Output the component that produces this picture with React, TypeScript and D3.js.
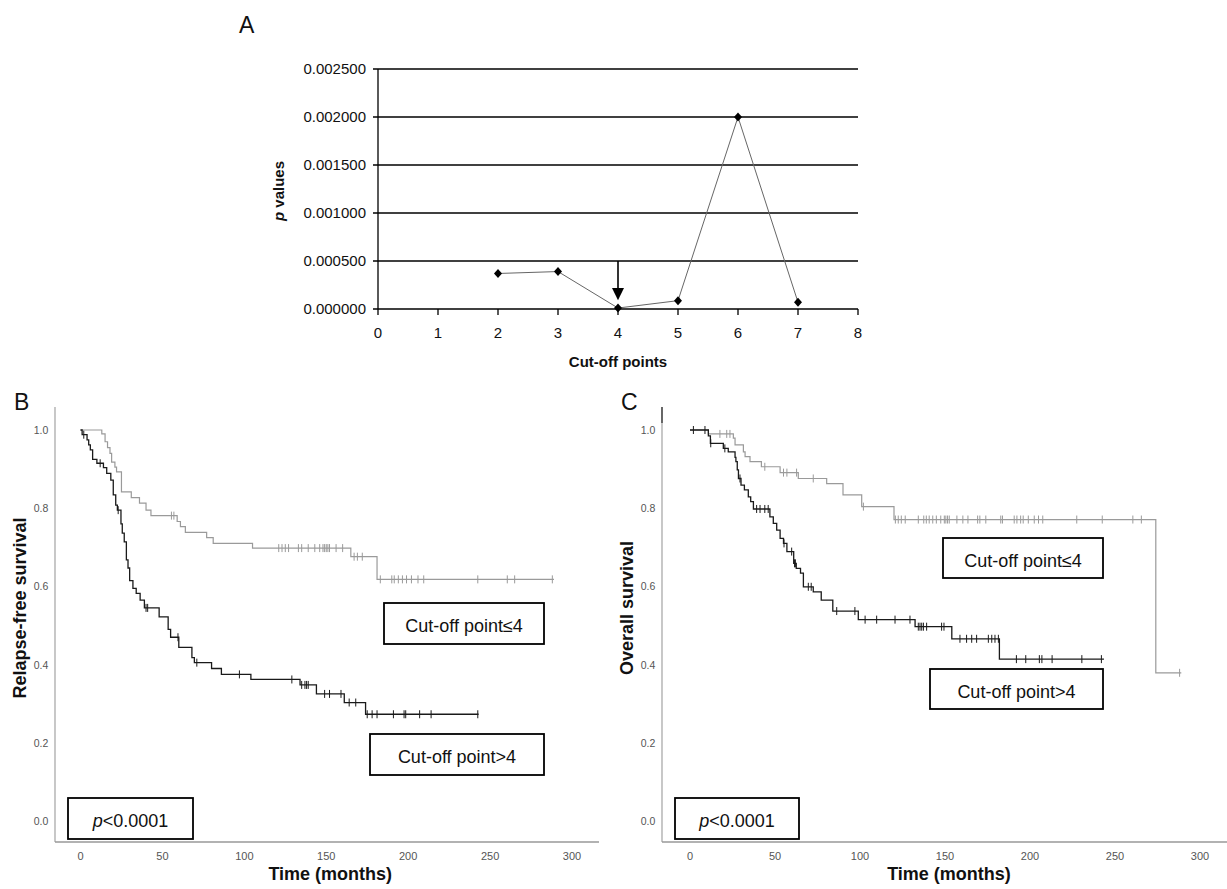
import React from "react";
import * as d3 from "d3";

// Panel A: p values by cut-off point
const cutoffPoints = [2, 3, 4, 5, 6, 7];
const pValues = [0.00037, 0.00039, 0.00001, 0.000087, 0.002, 0.00007];
const pTicks = [0, 0.0005, 0.001, 0.0015, 0.002, 0.0025];
const cutoffTicks = [0, 1, 2, 3, 4, 5, 6, 7, 8];

// Kaplan-Meier axes
const survTicks = [0, 0.2, 0.4, 0.6, 0.8, 1.0];
const timeTicks = [0, 50, 100, 150, 200, 250, 300];

// B: relapse-free survival, cut-off point <= 4
const rfsLowTimes = [0, 13, 15, 16.5, 18, 19, 21, 22, 25, 31, 36, 40, 43, 59, 61, 64, 77, 81, 105, 165, 181];
const rfsLowSurv = [1.0, 0.99, 0.97, 0.955, 0.94, 0.918, 0.905, 0.893, 0.842, 0.827, 0.813, 0.795, 0.781, 0.766, 0.753, 0.738, 0.725, 0.71, 0.698, 0.676, 0.618];
const rfsLowEnd = 289;
const rfsLowCensor = [55.5, 57, 121, 123, 125, 127, 133, 135, 139, 143, 146, 148, 149, 150, 151, 152, 156, 160, 167, 169, 172, 183, 190, 191.5, 194, 196.5, 199, 202, 206, 209.5, 242.5, 260.5, 265, 288];

// B: relapse-free survival, cut-off point > 4
const rfsHighTimes = [0, 1, 4, 5, 6, 7.4, 10, 14, 16, 18.5, 20, 21.5, 22.5, 24.7, 25.5, 26.7, 28, 29, 30, 32, 34, 36.4, 39, 48, 53.5, 55, 60, 68, 69.5, 80, 86, 104, 134, 144, 161, 174];
const rfsHighSurv = [1.0, 0.988, 0.975, 0.962, 0.949, 0.925, 0.915, 0.904, 0.889, 0.872, 0.834, 0.808, 0.795, 0.76, 0.736, 0.714, 0.668, 0.647, 0.615, 0.595, 0.582, 0.565, 0.545, 0.522, 0.49, 0.47, 0.444, 0.418, 0.405, 0.39, 0.375, 0.362, 0.348, 0.325, 0.303, 0.273];
const rfsHighEnd = 243;
const rfsHighCensor = [2, 12, 23, 40, 41, 59.5, 71, 97, 129, 135, 137, 138, 139, 149, 152, 159, 164, 168, 175, 178, 181, 191, 197.5, 198.5, 207, 214, 242.5];

// C: overall survival, cut-off point <= 4
const osLowTimes = [0, 10.8, 25.5, 26.5, 31.4, 32.4, 35.3, 42, 53, 63.7, 80.4, 90, 101, 120, 274];
const osLowSurv = [1.0, 0.99, 0.979, 0.962, 0.944, 0.932, 0.919, 0.906, 0.891, 0.876, 0.863, 0.834, 0.804, 0.771, 0.379];
const osLowEnd = 289;
const osLowCensor = [17.6, 21.6, 23.5, 44, 55, 57, 62.7, 72.5, 102, 120.8, 122.5, 124.3, 126.6, 134.3, 137.5, 139, 140.7, 142.8, 144.9, 147.5, 149.6, 150.5, 151.5, 152.5, 157, 160.5, 163.5, 169.2, 170.5, 174, 182.8, 183.8, 190.7, 192.3, 194.5, 196, 199, 202.5, 205, 207.5, 227.5, 242.5, 260.5, 265.5, 288];

// C: overall survival, cut-off point > 4
const osHighTimes = [0, 10.8, 12, 19.6, 22.5, 26.5, 27, 27.8, 28.5, 30, 32, 34.3, 35.7, 37.3, 47, 49, 51, 53, 55, 57, 61, 62.5, 65, 66.7, 72.5, 77.2, 84, 99, 132.4, 154, 182];
const osHighSurv = [1.0, 0.985, 0.966, 0.953, 0.944, 0.93, 0.919, 0.898, 0.876, 0.859, 0.847, 0.829, 0.817, 0.798, 0.778, 0.761, 0.744, 0.723, 0.71, 0.689, 0.659, 0.646, 0.634, 0.599, 0.586, 0.565, 0.537, 0.515, 0.497, 0.466, 0.414];
const osHighEnd = 243.5;
const osHighCensor = [2, 8.8, 12.2, 20.5, 29.4, 39.2, 41.2, 44, 46, 55.3, 59.8, 61.5, 62, 69.6, 71.3, 86.3, 97, 103, 109.8, 120.6, 129.4, 134.3, 135.3, 136.3, 137.3, 139.2, 148, 149.4, 158.8, 162.7, 165.7, 168.6, 175.5, 177.5, 179.4, 181.4, 192, 197.5, 205.5, 207, 213, 230.5, 242];

const FONT = "'Liberation Sans', Arial, sans-serif";
const GRAY = "#9a9a9a";
const DARK = "#1a1a1a";

function stepPath(x, y, times, surv, end) {
  const pts = times.map((t, i) => [t, surv[i]]);
  pts.push([end, surv[surv.length - 1]]);
  return d3
    .line()
    .x((d) => x(d[0]))
    .y((d) => y(d[1]))
    .curve(d3.curveStepAfter)(pts);
}

function survAt(times, surv, t) {
  const i = d3.bisectRight(times, t) - 1;
  return surv[Math.max(0, i)];
}

function PanelA() {
  const x = d3.scaleLinear().domain([0, 8]).range([378, 858]);
  const y = d3.scaleLinear().domain([0, 0.0025]).range([309, 69]);
  const line = d3
    .line()
    .x((d) => x(d[0]))
    .y((d) => y(d[1]));
  const pts = cutoffPoints.map((c, i) => [c, pValues[i]]);
  const ax = x(4);
  const headTop = y(0.00022);
  const tip = y(0.00009);
  return (
    <g fontFamily={FONT}>
      <text x={239} y={33} fontSize={23} fill="#111">A</text>
      {pTicks.map((t) => (
        <g key={t}>
          <line x1={x(0) - 5} x2={x(8)} y1={y(t)} y2={y(t)} stroke="#000" strokeWidth={1.3} />
          <text x={x(0) - 12} y={y(t) + 5} fontSize={15} textAnchor="end" fill="#111">
            {t.toFixed(6)}
          </text>
        </g>
      ))}
      <line x1={x(0)} x2={x(0)} y1={y(0.0025)} y2={y(0)} stroke="#000" strokeWidth={1.3} />
      {cutoffTicks.map((t) => (
        <g key={t}>
          <line x1={x(t)} x2={x(t)} y1={y(0)} y2={y(0) + 6} stroke="#000" strokeWidth={1.3} />
          <text x={x(t)} y={y(0) + 29} fontSize={15} textAnchor="middle" fill="#111">
            {t}
          </text>
        </g>
      ))}
      <path d={line(pts)} fill="none" stroke="#666" strokeWidth={1} />
      {pts.map((d, i) => (
        <path
          key={i}
          d="M0,-4.5L4,0L0,4.5L-4,0Z"
          transform={`translate(${x(d[0])},${y(d[1])})`}
          fill="#000"
        />
      ))}
      <line x1={ax} x2={ax} y1={y(0.0005)} y2={headTop} stroke="#000" strokeWidth={1.6} />
      <path d={`M${ax - 6},${headTop}L${ax + 6},${headTop}L${ax},${tip}Z`} fill="#000" />
      <text x={x(4)} y={367} fontSize={15} fontWeight="bold" textAnchor="middle" fill="#111">
        Cut-off points
      </text>
      <text transform={`translate(284,191) rotate(-90)`} fontSize={15} fontWeight="bold" textAnchor="middle" fill="#111">
        <tspan fontStyle="italic">p</tspan> values
      </text>
    </g>
  );
}

function Box({ x, y, w, h, children }) {
  return (
    <g>
      <rect x={x} y={y} width={w} height={h} fill="#fff" stroke="#000" strokeWidth={1.8} />
      <text x={x + w / 2} y={y + 29} fontSize={18} textAnchor="middle" fill="#111">
        {children}
      </text>
    </g>
  );
}

function KMPanel({ letter, title, axisX, xRange, axisRight, series, boxes, darkTop }) {
  const x = d3.scaleLinear().domain([0, 300]).range(xRange);
  const y = d3.scaleLinear().domain([0, 1]).range([821, 430]);
  const axisY = 842;
  const axisTop = 407;
  const mid = (xRange[0] + xRange[1]) / 2 + 4;
  return (
    <g fontFamily={FONT}>
      <text x={axisX - 41} y={410} fontSize={23} fill="#111">{letter}</text>
      <line x1={axisX} x2={axisX} y1={axisTop} y2={axisY} stroke="#aaa" strokeWidth={1.3} />
      {darkTop && <line x1={axisX} x2={axisX} y1={axisTop} y2={axisTop + 16} stroke="#333" strokeWidth={1.3} />}
      <line x1={axisX} x2={axisRight} y1={axisY} y2={axisY} stroke="#999" strokeWidth={1.5} />
      {survTicks.map((t) => (
        <text key={t} x={axisX - 14} y={y(t) + 4} fontSize={10.5} textAnchor="middle" fill="#555">
          {t.toFixed(1)}
        </text>
      ))}
      {timeTicks.map((t) => (
        <text key={t} x={x(t)} y={860} fontSize={11} textAnchor="middle" fill="#555">
          {t}
        </text>
      ))}
      <text x={mid} y={880} fontSize={18} fontWeight="bold" textAnchor="middle" fill="#111">
        Time (months)
      </text>
      <text transform={`translate(${axisX - 29},608) rotate(-90)`} fontSize={18} fontWeight="bold" textAnchor="middle" fill="#111">
        {title}
      </text>
      {series.map((s, i) => (
        <g key={i}>
          <path d={stepPath(x, y, s.times, s.surv, s.end)} fill="none" stroke={s.color} strokeWidth={s.width} />
          {s.censor.map((c, j) => {
            const cy = y(survAt(s.times, s.surv, c));
            return <line key={j} x1={x(c)} x2={x(c)} y1={cy - 4} y2={cy + 4} stroke={s.color} strokeWidth={1} />;
          })}
        </g>
      ))}
      {boxes.map((b, i) => (
        <Box key={i} x={b.x} y={b.y} w={b.w} h={b.h}>
          {b.p ? (
            <>
              <tspan fontStyle="italic">p</tspan>&lt;0.0001
            </>
          ) : (
            b.label
          )}
        </Box>
      ))}
    </g>
  );
}

export default function App() {
  return (
    <svg
      width={1227}
      height={889}
      style={{ position: "absolute", left: 0, top: 0, background: "#fff" }}
    >
      <rect width={1227} height={889} fill="#fff" />
      <PanelA />
      <KMPanel
        letter="B"
        title="Relapse-free survival"
        axisX={55}
        xRange={[80.5, 572]}
        axisRight={599}
        series={[
          { times: rfsLowTimes, surv: rfsLowSurv, end: rfsLowEnd, censor: rfsLowCensor, color: GRAY, width: 1.2 },
          { times: rfsHighTimes, surv: rfsHighSurv, end: rfsHighEnd, censor: rfsHighCensor, color: DARK, width: 1.3 },
        ]}
        boxes={[
          { x: 384, y: 603, w: 160, h: 41, label: "Cut-off point≤4" },
          { x: 370, y: 734, w: 174, h: 41, label: "Cut-off point>4" },
          { x: 68, y: 798, w: 125, h: 41, p: true },
        ]}
      />
      <KMPanel
        letter="C"
        title="Overall survival"
        axisX={662}
        xRange={[690, 1200]}
        axisRight={1227}
        darkTop
        series={[
          { times: osLowTimes, surv: osLowSurv, end: osLowEnd, censor: osLowCensor, color: GRAY, width: 1.2 },
          { times: osHighTimes, surv: osHighSurv, end: osHighEnd, censor: osHighCensor, color: DARK, width: 1.3 },
        ]}
        boxes={[
          { x: 943, y: 538, w: 160, h: 40, label: "Cut-off point≤4" },
          { x: 930, y: 669, w: 173, h: 40, label: "Cut-off point>4" },
          { x: 675, y: 798, w: 124, h: 41, p: true },
        ]}
      />
    </svg>
  );
}
